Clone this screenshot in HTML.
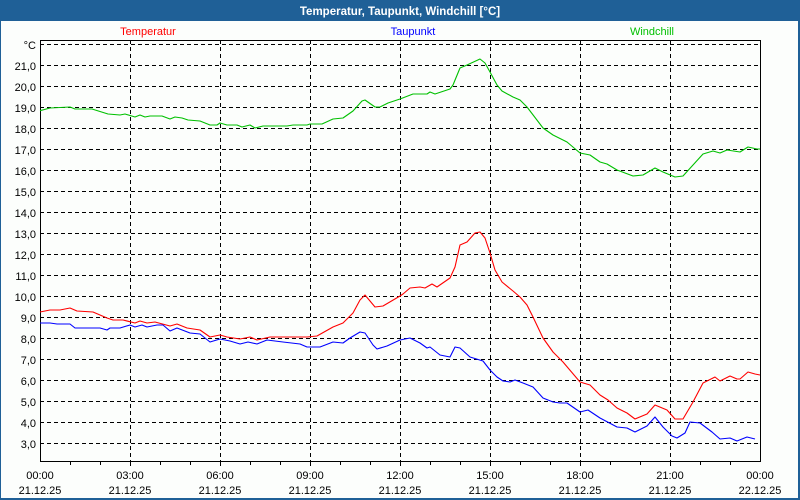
<!DOCTYPE html>
<html><head><meta charset="utf-8"><style>
html,body{margin:0;padding:0;background:#fff}
svg{display:block;font-family:"Liberation Sans",sans-serif}
</style></head><body>
<svg width="800" height="500" xmlns="http://www.w3.org/2000/svg">
<rect x="0" y="0" width="800" height="500" fill="#1f6097"/>
<rect x="1" y="21" width="797" height="477" fill="#fcfefc"/>
<text x="400" y="15" fill="#fff" font-size="11.5" font-weight="bold" text-anchor="middle">Temperatur, Taupunkt, Windchill [°C]</text>
<text x="148" y="35" fill="#ff0000" font-size="11" text-anchor="middle">Temperatur</text>
<text x="413" y="35" fill="#0000ff" font-size="11" text-anchor="middle">Taupunkt</text>
<text x="652" y="35" fill="#00c000" font-size="11" text-anchor="middle">Windchill</text>
<g stroke="#000" stroke-width="1" stroke-dasharray="4,3" shape-rendering="crispEdges">
<line x1="40" x2="760" y1="44.5" y2="44.5"/><line x1="40" x2="760" y1="65.5" y2="65.5"/><line x1="40" x2="760" y1="86.5" y2="86.5"/><line x1="40" x2="760" y1="107.5" y2="107.5"/><line x1="40" x2="760" y1="128.5" y2="128.5"/><line x1="40" x2="760" y1="149.5" y2="149.5"/><line x1="40" x2="760" y1="170.5" y2="170.5"/><line x1="40" x2="760" y1="191.5" y2="191.5"/><line x1="40" x2="760" y1="212.5" y2="212.5"/><line x1="40" x2="760" y1="233.5" y2="233.5"/><line x1="40" x2="760" y1="254.5" y2="254.5"/><line x1="40" x2="760" y1="275.5" y2="275.5"/><line x1="40" x2="760" y1="296.5" y2="296.5"/><line x1="40" x2="760" y1="317.5" y2="317.5"/><line x1="40" x2="760" y1="338.5" y2="338.5"/><line x1="40" x2="760" y1="359.5" y2="359.5"/><line x1="40" x2="760" y1="380.5" y2="380.5"/><line x1="40" x2="760" y1="401.5" y2="401.5"/><line x1="40" x2="760" y1="422.5" y2="422.5"/><line x1="40" x2="760" y1="443.5" y2="443.5"/>
<line y1="40" y2="461" x1="130.5" x2="130.5"/><line y1="40" y2="461" x1="220.5" x2="220.5"/><line y1="40" y2="461" x1="310.5" x2="310.5"/><line y1="40" y2="461" x1="400.5" x2="400.5"/><line y1="40" y2="461" x1="490.5" x2="490.5"/><line y1="40" y2="461" x1="580.5" x2="580.5"/><line y1="40" y2="461" x1="670.5" x2="670.5"/>
</g>
<rect x="40.5" y="40.5" width="720" height="421" fill="none" stroke="#000" stroke-width="1.3" shape-rendering="crispEdges"/>
<g stroke="#000" shape-rendering="crispEdges">
<line x1="70.5" x2="70.5" y1="461" y2="465"/><line x1="100.5" x2="100.5" y1="461" y2="465"/><line x1="130.5" x2="130.5" y1="461" y2="466"/><line x1="160.5" x2="160.5" y1="461" y2="465"/><line x1="190.5" x2="190.5" y1="461" y2="465"/><line x1="220.5" x2="220.5" y1="461" y2="466"/><line x1="250.5" x2="250.5" y1="461" y2="465"/><line x1="280.5" x2="280.5" y1="461" y2="465"/><line x1="310.5" x2="310.5" y1="461" y2="466"/><line x1="340.5" x2="340.5" y1="461" y2="465"/><line x1="370.5" x2="370.5" y1="461" y2="465"/><line x1="400.5" x2="400.5" y1="461" y2="466"/><line x1="430.5" x2="430.5" y1="461" y2="465"/><line x1="460.5" x2="460.5" y1="461" y2="465"/><line x1="490.5" x2="490.5" y1="461" y2="466"/><line x1="520.5" x2="520.5" y1="461" y2="465"/><line x1="550.5" x2="550.5" y1="461" y2="465"/><line x1="580.5" x2="580.5" y1="461" y2="466"/><line x1="610.5" x2="610.5" y1="461" y2="465"/><line x1="640.5" x2="640.5" y1="461" y2="465"/><line x1="670.5" x2="670.5" y1="461" y2="466"/><line x1="700.5" x2="700.5" y1="461" y2="465"/><line x1="730.5" x2="730.5" y1="461" y2="465"/>
</g>
<g font-size="11" fill="#000" text-anchor="end">
<text x="36" y="49">°C</text><text x="36" y="70">21,0</text><text x="36" y="91">20,0</text><text x="36" y="112">19,0</text><text x="36" y="133">18,0</text><text x="36" y="154">17,0</text><text x="36" y="175">16,0</text><text x="36" y="196">15,0</text><text x="36" y="217">14,0</text><text x="36" y="238">13,0</text><text x="36" y="259">12,0</text><text x="36" y="280">11,0</text><text x="36" y="301">10,0</text><text x="36" y="322">9,0</text><text x="36" y="343">8,0</text><text x="36" y="364">7,0</text><text x="36" y="385">6,0</text><text x="36" y="406">5,0</text><text x="36" y="427">4,0</text><text x="36" y="448">3,0</text>
</g>
<g font-size="11" fill="#000" text-anchor="middle">
<text x="40" y="479">00:00</text><text x="40" y="494">21.12.25</text>
<text x="130" y="479">03:00</text><text x="130" y="494">21.12.25</text>
<text x="220" y="479">06:00</text><text x="220" y="494">21.12.25</text>
<text x="310" y="479">09:00</text><text x="310" y="494">21.12.25</text>
<text x="400" y="479">12:00</text><text x="400" y="494">21.12.25</text>
<text x="490" y="479">15:00</text><text x="490" y="494">21.12.25</text>
<text x="580" y="479">18:00</text><text x="580" y="494">21.12.25</text>
<text x="670" y="479">21:00</text><text x="670" y="494">21.12.25</text>
<text x="760" y="479">00:00</text><text x="760" y="494">22.12.25</text>
</g>
<g fill="none" stroke-width="1.1" stroke-linejoin="round">
<polyline stroke="#00c000" points="40,110.7 50,108 70,107 75,109 92,109 108,114 120,115 125,114 135,117 140,115 145,117 150,116 162,116 170,119 175,117 182,118 188,120 200,121 210,125 217,125 220,123 227,125 237,125 242,127 250,125 255,128 263,126 287,126 293,125 307,125 310,124 322,124 333,119 343,118 353,111 362,101 365,100 375,107 380,107 388,103 400,99 413,94 427,94 430,92 435,94 450,89 453,85 460,68 467,65 480,59 485,63 490,72 497,85 502,91 513,97 520,100 527,107 543,128 553,135 567,142 580,153 590,155 600,162 607,164 617,170 633,176 643,175 655,168 663,172 675,177 683,176 693,165 703,154 713,151 720,153 727,150 740,152 748,147 757,149 760,149"/>
<polyline stroke="#ff0000" points="40,312 50,310 60,310 70,308 77,311 93,312 107,318 113,320 123,320 135,323 140,321 147,323 155,322 170,326 177,324 187,328 200,330 210,337 220,335 227,337 240,339 250,337 257,340 270,337 307,337 317,336 333,327 343,323 353,313 360,300 365,295 375,307 383,306 400,296 403,294 410,288 420,287 425,288 432,284 437,287 450,278 455,267 460,245 467,242 475,233 480,232 485,238 490,253 495,270 502,282 513,291 520,297 527,305 533,317 543,338 553,352 563,362 580,382 590,385 600,395 608,400 617,408 627,413 635,419 647,414 655,405 667,410 675,419 683,419 693,402 703,383 715,377 720,381 730,376 737,379 740,379 748,372 755,374 760,375"/>
<polyline stroke="#0000ff" points="40,323 50,323 57,324 70,324 75,328 93,328 100,328 107,330 110,328 120,328 130,325 135,327 142,325 147,327 157,325 163,325 170,331 177,328 190,333 200,334 210,342 220,339 230,341 240,344 248,342 257,344 267,340 283,342 300,344 307,347 320,347 333,342 343,343 350,338 360,332 365,333 373,345 377,349 387,346 400,340 410,338 420,343 427,348 430,347 440,355 450,357 455,347 460,348 470,357 483,361 490,370 497,377 503,381 510,382 515,380 523,383 533,387 543,398 553,402 560,403 567,403 580,412 588,410 600,418 617,427 627,428 635,432 647,426 655,417 663,427 672,436 677,438 685,433 690,422 700,423 712,432 720,439 730,438 737,441 747,437 755,439"/>
</g>
</svg>
</body></html>
